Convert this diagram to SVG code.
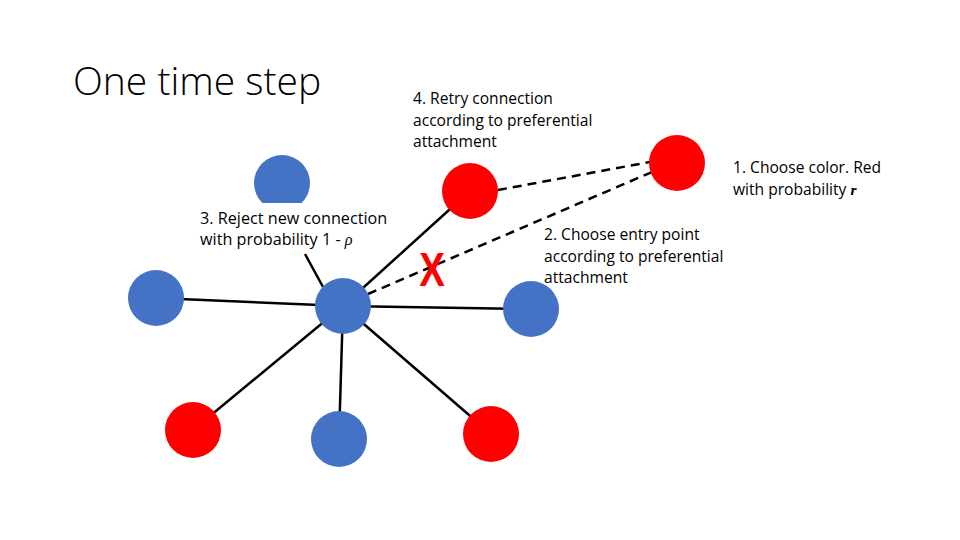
<svg xmlns="http://www.w3.org/2000/svg" width="960" height="540" viewBox="0 0 960 540">
<style>
.blue{fill:#4472C4}
.red{fill:#FF0000}
.edge{stroke:#000;stroke-width:2.5;fill:none}
.dash{stroke:#000;stroke-width:2.5;fill:none;stroke-dasharray:9 6}
.lbl{font-family:"Open Sans","Liberation Sans",sans-serif;font-size:15.6px;fill:#000}
.title{font-family:"Open Sans","Liberation Sans",sans-serif;font-size:39px;font-weight:300;fill:#000}
</style>
<rect width="960" height="540" fill="#fff"/>
<text class="title" x="73" y="95">One time step</text>
<g id="connectors">
<line class="edge" x1="343" y1="306" x2="156" y2="298"/>
<line class="edge" x1="343" y1="306" x2="531" y2="309"/>
<line class="edge" x1="343" y1="306" x2="193" y2="430"/>
<line class="edge" x1="343" y1="306" x2="339" y2="439"/>
<line class="edge" x1="343" y1="306" x2="491" y2="434"/>
<line class="edge" x1="343" y1="306" x2="470" y2="191"/>
<line class="edge" x1="305" y1="254" x2="323" y2="287"/>
<line class="dash" x1="368" y1="294" x2="652" y2="172"/>
<line class="dash" x1="498" y1="190" x2="650" y2="162"/>
</g>
<g id="n-top"><circle class="blue" cx="282" cy="183" r="28"/></g>
<rect x="196" y="203" width="195" height="48" fill="#fff"/>
<g id="n-center"><circle class="blue" cx="343" cy="306" r="28"/></g>
<g id="n-left"><circle class="blue" cx="156" cy="298" r="28"/></g>
<g id="n-right"><circle class="blue" cx="531" cy="309" r="28"/></g>
<g id="n-bl"><circle class="red" cx="193" cy="430" r="28"/></g>
<g id="n-bm"><circle class="blue" cx="339" cy="439" r="28"/></g>
<g id="n-br"><circle class="red" cx="491" cy="434" r="28"/></g>
<g id="n-mid-red"><circle class="red" cx="470" cy="191" r="28"/></g>
<g id="n-new-red"><circle class="red" cx="677" cy="163" r="28"/></g>
<text transform="translate(432,286) scale(0.8,1)" font-family="'Liberation Sans',Arial,sans-serif" font-size="48" font-weight="bold" fill="#FF0000" text-anchor="middle">X</text>
<g id="label-1">
<text class="lbl" x="733" y="173">1. Choose color. Red</text>
<text class="lbl" x="733" y="195">with probability <tspan font-family="'Liberation Serif',serif" font-style="italic" font-weight="bold">r</tspan></text>
</g>
<g id="label-2">
<text class="lbl" x="544" y="240">2. Choose entry point</text>
<text class="lbl" x="544" y="262">according to preferential</text>
<text class="lbl" x="544" y="283">attachment</text>
</g>
<g id="label-3">
<text class="lbl" x="200" y="224" style="font-size:16.2px">3. Reject new connection</text>
<text class="lbl" x="200" y="245" style="font-size:16.2px">with probability 1 - <tspan font-family="'Liberation Serif',serif" font-style="italic">ρ</tspan></text>
</g>
<g id="label-4">
<text class="lbl" x="413" y="104">4. Retry connection</text>
<text class="lbl" x="413" y="126">according to preferential</text>
<text class="lbl" x="413" y="147">attachment</text>
</g>
</svg>
